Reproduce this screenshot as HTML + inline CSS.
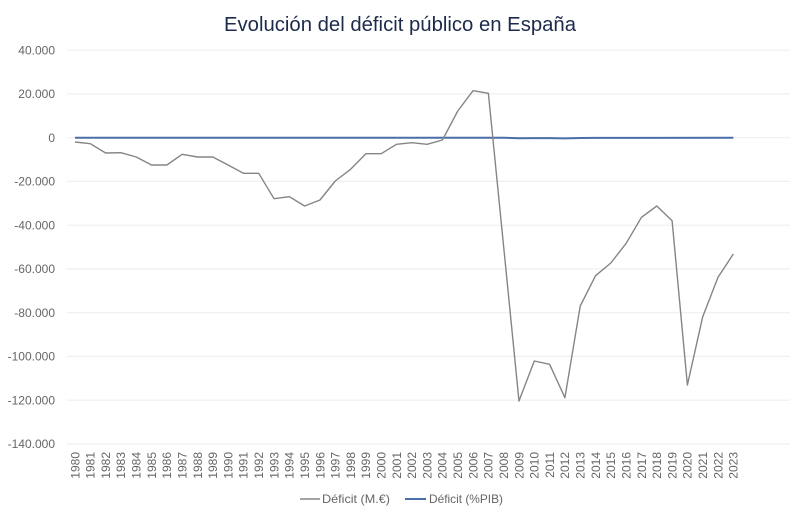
<!DOCTYPE html>
<html>
<head>
<meta charset="utf-8">
<style>
  html, body { margin:0; padding:0; background:#ffffff; }
  svg { display:block; }
  text { font-family: "Liberation Sans", "DejaVu Sans", sans-serif; }
</style>
</head>
<body>
<svg width="800" height="518" viewBox="0 0 800 518" xmlns="http://www.w3.org/2000/svg">
  <rect x="0" y="0" width="800" height="518" fill="#ffffff"/>
  <!-- Title -->
  <text x="400" y="31" text-anchor="middle" font-size="20" fill="#1c2b4a" textLength="352" lengthAdjust="spacingAndGlyphs">Evolución del déficit público en España</text>

  <!-- Gridlines -->
  <g stroke="#efefef" stroke-width="1.2">
    <line x1="67" y1="50.2" x2="790" y2="50.2"/>
    <line x1="67" y1="93.9" x2="790" y2="93.9"/>
    <line x1="67" y1="137.7" x2="790" y2="137.7"/>
    <line x1="67" y1="181.4" x2="790" y2="181.4"/>
    <line x1="67" y1="225.2" x2="790" y2="225.2"/>
    <line x1="67" y1="268.9" x2="790" y2="268.9"/>
    <line x1="67" y1="312.7" x2="790" y2="312.7"/>
    <line x1="67" y1="356.4" x2="790" y2="356.4"/>
    <line x1="67" y1="400.2" x2="790" y2="400.2"/>
    <line x1="67" y1="443.9" x2="790" y2="443.9"/>
  </g>

  <!-- Y axis labels -->
  <g font-size="12" fill="#666666" text-anchor="end">
    <text x="55" y="54.5">40.000</text>
    <text x="55" y="98.2">20.000</text>
    <text x="55" y="142">0</text>
    <text x="55" y="185.7">-20.000</text>
    <text x="55" y="229.5">-40.000</text>
    <text x="55" y="273.2">-60.000</text>
    <text x="55" y="317">-80.000</text>
    <text x="55" y="360.7">-100.000</text>
    <text x="55" y="404.5">-120.000</text>
    <text x="55" y="448.2">-140.000</text>
  </g>

  <!-- Déficit (%PIB) -->
  <polyline fill="none" stroke="#4a6ea8" stroke-width="2" stroke-linejoin="round"
    points="75,137.7 503.68,137.7 518.99,138.3 534.3,138.1 549.61,138.1 564.92,138.4 580.23,138 595.54,137.9 733.33,137.7"/>

  <!-- Déficit (M.€) -->
  <polyline fill="none" stroke="#858585" stroke-width="1.4" stroke-linejoin="round"
    points="75,142 90.31,143.7 105.62,153 120.93,152.7 136.24,157 151.55,165 166.86,165 182.17,154.3 197.48,157 212.79,157 228.1,165 243.41,173.3 258.72,173.3 274.03,198.7 289.34,196.7 304.65,206 319.96,200 335.27,181 350.58,169.3 365.89,153.7 381.2,153.7 396.51,144.3 411.82,142.7 427.13,144.3 442.44,140 457.75,111 473.06,90.7 488.37,93.3 503.68,247 518.99,401 534.3,361 549.61,364.3 564.92,397.7 580.23,306 595.54,275.7 610.85,263 626.16,243.3 641.47,217.3 656.78,206 672.09,220.7 687.4,385 702.71,316.7 718.02,277.3 733.33,254"/>

  <!-- X axis labels (rotated) -->
  <g font-size="12" fill="#666666" text-anchor="end">
    <text transform="translate(79.3,452) rotate(-90)">1980</text>
    <text transform="translate(94.61,452) rotate(-90)">1981</text>
    <text transform="translate(109.92,452) rotate(-90)">1982</text>
    <text transform="translate(125.23,452) rotate(-90)">1983</text>
    <text transform="translate(140.54,452) rotate(-90)">1984</text>
    <text transform="translate(155.85,452) rotate(-90)">1985</text>
    <text transform="translate(171.16,452) rotate(-90)">1986</text>
    <text transform="translate(186.47,452) rotate(-90)">1987</text>
    <text transform="translate(201.78,452) rotate(-90)">1988</text>
    <text transform="translate(217.09,452) rotate(-90)">1989</text>
    <text transform="translate(232.4,452) rotate(-90)">1990</text>
    <text transform="translate(247.71,452) rotate(-90)">1991</text>
    <text transform="translate(263.02,452) rotate(-90)">1992</text>
    <text transform="translate(278.33,452) rotate(-90)">1993</text>
    <text transform="translate(293.64,452) rotate(-90)">1994</text>
    <text transform="translate(308.95,452) rotate(-90)">1995</text>
    <text transform="translate(324.26,452) rotate(-90)">1996</text>
    <text transform="translate(339.57,452) rotate(-90)">1997</text>
    <text transform="translate(354.88,452) rotate(-90)">1998</text>
    <text transform="translate(370.19,452) rotate(-90)">1999</text>
    <text transform="translate(385.5,452) rotate(-90)">2000</text>
    <text transform="translate(400.81,452) rotate(-90)">2001</text>
    <text transform="translate(416.12,452) rotate(-90)">2002</text>
    <text transform="translate(431.43,452) rotate(-90)">2003</text>
    <text transform="translate(446.74,452) rotate(-90)">2004</text>
    <text transform="translate(462.05,452) rotate(-90)">2005</text>
    <text transform="translate(477.36,452) rotate(-90)">2006</text>
    <text transform="translate(492.67,452) rotate(-90)">2007</text>
    <text transform="translate(507.98,452) rotate(-90)">2008</text>
    <text transform="translate(523.29,452) rotate(-90)">2009</text>
    <text transform="translate(538.6,452) rotate(-90)">2010</text>
    <text transform="translate(553.91,452) rotate(-90)">2011</text>
    <text transform="translate(569.22,452) rotate(-90)">2012</text>
    <text transform="translate(584.53,452) rotate(-90)">2013</text>
    <text transform="translate(599.84,452) rotate(-90)">2014</text>
    <text transform="translate(615.15,452) rotate(-90)">2015</text>
    <text transform="translate(630.46,452) rotate(-90)">2016</text>
    <text transform="translate(645.77,452) rotate(-90)">2017</text>
    <text transform="translate(661.08,452) rotate(-90)">2018</text>
    <text transform="translate(676.39,452) rotate(-90)">2019</text>
    <text transform="translate(691.7,452) rotate(-90)">2020</text>
    <text transform="translate(707.01,452) rotate(-90)">2021</text>
    <text transform="translate(722.32,452) rotate(-90)">2022</text>
    <text transform="translate(737.63,452) rotate(-90)">2023</text>
  </g>

  <!-- Legend -->
  <line x1="300" y1="499" x2="320" y2="499" stroke="#858585" stroke-width="1.4"/>
  <text x="322" y="503" font-size="12" fill="#666666" textLength="68" lengthAdjust="spacingAndGlyphs">Déficit (M.€)</text>
  <line x1="405" y1="499" x2="426" y2="499" stroke="#4a6ea8" stroke-width="2"/>
  <text x="429" y="503" font-size="12" fill="#666666" textLength="74" lengthAdjust="spacingAndGlyphs">Déficit (%PIB)</text>
</svg>
</body>
</html>
